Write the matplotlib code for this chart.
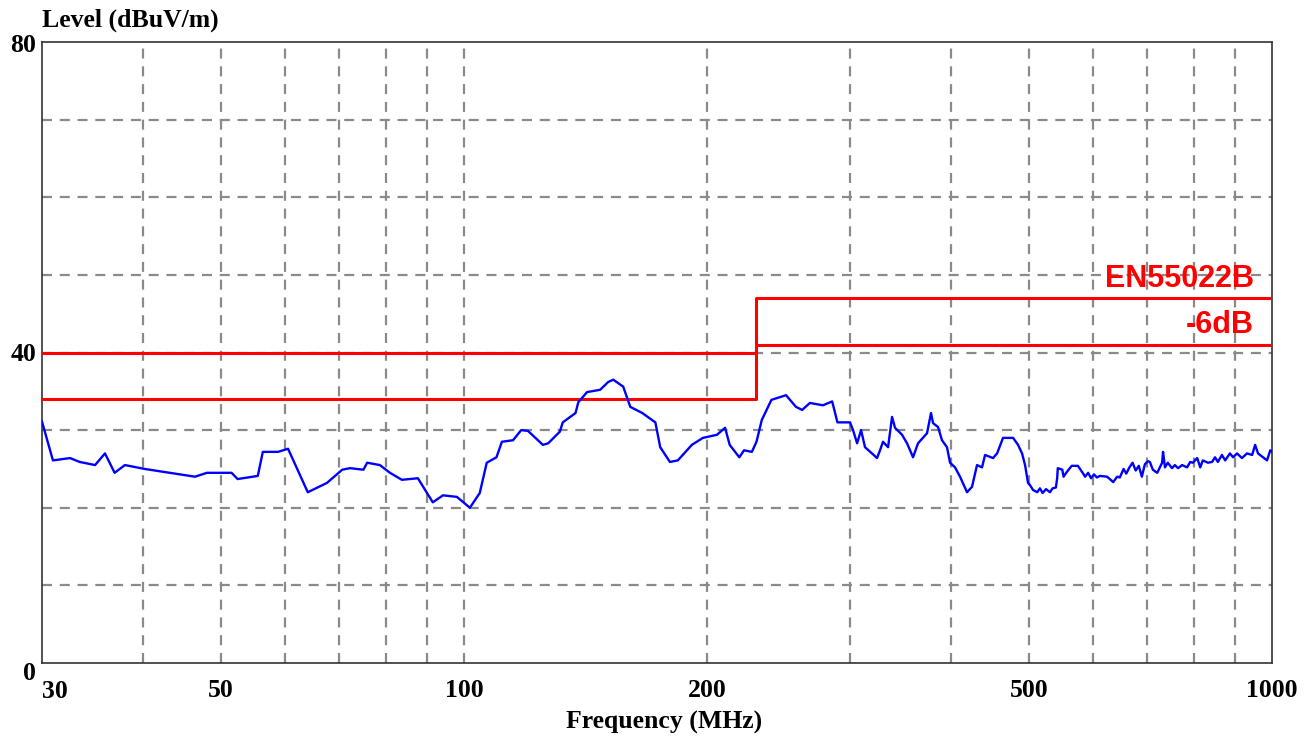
import matplotlib
matplotlib.use("Agg")
import matplotlib.pyplot as plt

freq = [30.0, 30.95, 32.5, 33.4, 34.9, 35.9, 36.9, 38.0, 40.2, 43.2, 46.4, 48.0,
        51.5, 52.4, 55.5, 56.3, 58.8, 60.5, 64.0, 67.6, 70.6, 72.2, 75.0, 75.8,
        78.6, 80.9, 83.7, 87.6, 91.4, 94.1, 97.9, 101.6, 104.5, 106.6, 109.6,
        111.3, 114.9, 117.6, 119.9, 125.1, 127.0, 131.3, 132.4, 137.3, 138.4,
        141.9, 147.3, 150.7, 152.9, 157.3, 160.5, 166.1, 172.4, 174.8, 179.7,
        183.8, 191.3, 197.4, 205.5, 210.3, 213.1, 219.0, 222.0, 227.0, 230.0,
        233.5, 240.0, 250.2, 257.4, 262.0, 267.8, 278.0, 285.4, 289.7,
        291.9, 300.3, 302.9, 306.4, 309.9, 313.4, 319.7, 324.3, 327.1, 329.9,
        334.7, 338.5, 341.4, 348.3, 353.3, 359.4, 364.5, 374.0, 378.3, 380.5,
        385.9, 390.3, 395.9, 399.4, 405.1, 410.9, 419.2, 425.2, 431.3, 437.5,
        441.3, 451.5, 456.7, 464.5, 478.0, 484.8, 490.4, 494.6, 498.8,
        501.7, 505.9, 512.0, 516.0, 520.0, 525.0, 531.0, 535.0, 540.0, 542.0,
        543.0, 550.0, 552.0, 557.0, 565.0, 575.0, 582.0, 587.0, 592.0, 597.0,
        602.0, 607.0, 612.0, 625.0, 636.0, 643.0, 648.0, 655.0, 660.0, 666.0,
        672.0, 678.0, 684.0, 690.0, 696.0, 702.0, 706.0, 712.0, 721.0, 731.0,
        733.0, 737.0, 743.0, 752.0, 758.0, 765.0, 774.0, 785.0, 792.0, 798.0,
        808.0, 815.0, 821.0, 833.0, 843.0, 850.0, 857.0, 867.0, 875.0, 887.0,
        895.0, 905.0, 918.0, 931.0, 945.0, 953.0, 961.0, 975.0, 986.0, 995.0,
        1000.0]
level = [31.1, 26.1, 26.4, 25.9, 25.5, 27.0, 24.5, 25.5, 25.0, 24.5, 24.0, 24.5,
         24.5, 23.7, 24.1, 27.2, 27.2, 27.6, 22.0, 23.2, 24.9, 25.1, 24.9, 25.8,
         25.5, 24.5, 23.6, 23.8, 20.7, 21.6, 21.4, 20.0, 21.9, 25.8, 26.5,
         28.5, 28.7, 30.0, 29.9, 28.1, 28.3, 29.8, 31.0, 32.2, 33.6,
         34.9, 35.2, 36.2, 36.5, 35.6, 33.0, 32.2, 31.0, 27.8, 25.9,
         26.1, 28.1, 29.0, 29.4, 30.3, 28.1, 26.5, 27.4, 27.2, 28.5,
         31.3, 33.9, 34.5, 33.0, 32.6, 33.5, 33.2, 33.7, 31.0,
         31.0, 31.0, 30.0, 28.3, 30.0, 27.8, 27.0, 26.4, 27.4, 28.5,
         27.8, 31.7, 30.3, 29.4, 28.3, 26.5, 28.3, 29.6, 32.2, 30.9,
         30.4, 28.7, 27.8, 25.8, 25.2, 24.0, 22.0, 22.7, 25.5, 25.2,
         26.8, 26.4, 27.0, 29.0, 29.0, 28.1, 27.0, 25.5, 23.2,
         22.9, 22.3, 22.0, 22.5, 21.9, 22.4, 22.0, 22.5, 22.6, 23.8,
         25.1, 24.9, 24.0, 24.6, 25.4, 25.4, 24.6, 24.0, 24.5, 23.8,
         24.3, 23.9, 24.1, 24.0, 23.3, 24.0, 23.9, 25.0, 24.4, 25.2,
         25.8, 24.8, 25.4, 24.0, 25.6, 26.0, 25.9, 24.9, 24.5, 25.8,
         27.2, 25.2, 25.8, 25.1, 25.5, 25.1, 25.5, 25.2, 25.9, 25.8,
         26.4, 25.2, 26.1, 25.8, 25.9, 26.5, 25.9, 26.8, 26.1, 27.0,
         26.5, 27.0, 26.4, 27.0, 26.8, 28.1, 27.0, 26.5, 26.1, 27.4,
         27.2]

# limit line EN55022B and the -6dB margin
lim_freq = [30, 230, 1000]
lim_level = [40, 47, 47]
margin_level = [34, 41, 41]

xlabels = [30, 50, 100, 200, 500, 1000]
vgrid = [40, 50, 60, 70, 80, 90, 100, 200, 300, 400, 500, 600, 700, 800, 900]

fig = plt.figure(figsize=(13.05, 7.37), dpi=100)
ax = fig.add_axes([42 / 1305, 1 - 663 / 737, 1230 / 1305, 621 / 737])

ax.set_xscale("log")
ax.set_xlim(30, 1000)
ax.set_ylim(0, 80)

# dashed grey grid
for f in vgrid:
    ax.axvline(f, color="#8a8a8a", lw=1.6, ls=(0, (4.5, 3.5)), zorder=1)
for lv in range(10, 80, 10):
    ax.axhline(lv, color="#8a8a8a", lw=1.6, ls=(0, (4.5, 3.5)), zorder=1)

ax.step(lim_freq, lim_level, where="post", color="#ff0000", lw=2.2, zorder=3)
ax.step(lim_freq, margin_level, where="post", color="#ff0000", lw=2.2, zorder=3)
ax.plot(freq, level, color="#0000ff", lw=1.7, zorder=4)

ax.set_xticks([])
ax.set_yticks([])
ax.xaxis.set_minor_locator(matplotlib.ticker.NullLocator())
for sp in ax.spines.values():
    sp.set_color("#333333")
    sp.set_linewidth(1.2)

lab = dict(family="Liberation Serif", weight="bold", fontsize=18.5, color="black")
fig.text(42 / 1305, 1 - 20 / 737, "Level (dBuV/m)", ha="left", va="center", **lab)
fig.text(664 / 1305, 1 - 722 / 737, "Frequency (MHz)", ha="center", va="center", **lab)

fig.text(36 / 1305, 1 - 46 / 737, "80", ha="right", va="center", **lab)
fig.text(36 / 1305, 1 - 355 / 737, "40", ha="right", va="center", **lab)
fig.text(36 / 1305, 1 - 674 / 737, "0", ha="right", va="center", **lab)

for f in xlabels:
    if f == 30:
        fig.text(42 / 1305, 1 - 691 / 737, str(f), ha="left", va="center", **lab)
    else:
        ax.text(f, -3.6, str(f), ha="center", va="center", clip_on=False, **lab)

red = dict(family="Liberation Sans", weight="bold", fontsize=22, color="#ff0000")
ax.text(950, 47.6, "EN55022B", ha="right", va="bottom", zorder=5, **red)
ax.text(950, 41.6, "-6dB", ha="right", va="bottom", zorder=5, **red)

fig.savefig("out.png", dpi=100)
